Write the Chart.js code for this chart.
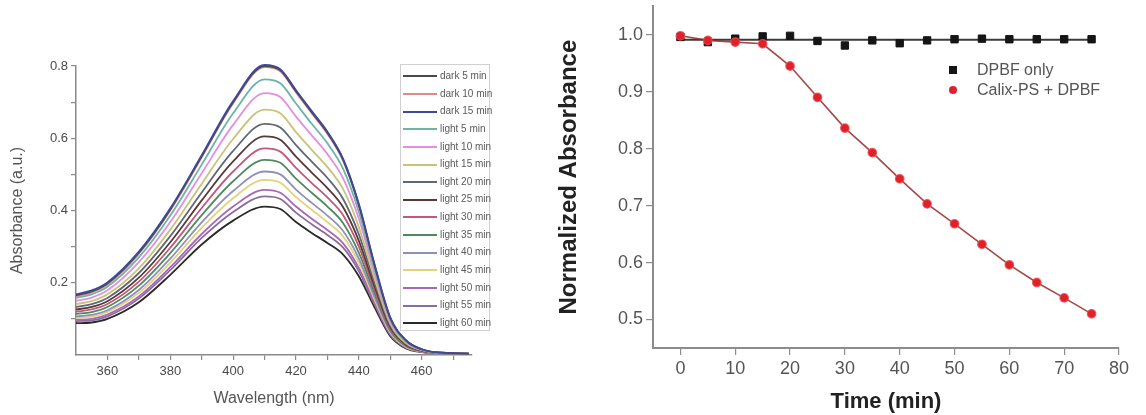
<!DOCTYPE html>
<html>
<head>
<meta charset="utf-8">
<title>DPBF photobleaching</title>
<script src="https://cdn.jsdelivr.net/npm/chart.js@4.4.1/dist/chart.umd.min.js"></script>
<style>
  html, body { margin: 0; padding: 0; background: #fff; }
  #page {
    position: relative;
    width: 1146px;
    height: 415px;
    overflow: hidden;
    font-family: "Liberation Sans", Arial, sans-serif;
  }
  #spectra { position: absolute; left: 0; top: 0; }
  #kinetics { position: absolute; left: 540px; top: 0; }

  .spec-legend {
    position: absolute;
    left: 400px;
    top: 64px;
    width: 90px;
    height: 267px;
    border: 1px solid #d0d0d0;
    background: #fff;
    box-sizing: border-box;
  }
  .spec-legend .row {
    position: absolute;
    left: 2px;
    height: 12px;
    font-size: 10px;
    line-height: 12px;
    color: #5a5a5a;
    white-space: nowrap;
  }
  .spec-legend .swatch {
    display: inline-block;
    width: 34px;
    height: 2px;
    vertical-align: middle;
    margin-right: 3px;
  }

  .kin-legend .row {
    position: absolute;
    font-size: 16px;
    color: #555;
    white-space: nowrap;
    line-height: 18px;
  }
  .kin-legend .mark {
    position: absolute;
    width: 8px;
    height: 8px;
  }
</style>
</head>
<body>
<div id="page">
  <canvas id="spectra" width="500" height="415"></canvas>
  <canvas id="kinetics" width="606" height="415"></canvas>
  <div class="spec-legend" id="specLegend"></div>
  <div class="kin-legend" id="kinLegend"></div>
</div>

<script>
// ====================================
// Data
// ====================================

// left panel: UV-vis spectra
const wavelengths = [350, 355, 360, 370, 380, 390, 400, 410, 415, 420, 425, 430, 435, 440, 445, 450, 455, 460, 465, 475];

const dark5Min   = [0.165, 0.176, 0.198, 0.283, 0.403, 0.550, 0.700, 0.800, 0.788, 0.730, 0.672, 0.615, 0.540, 0.415, 0.248, 0.102, 0.040, 0.016, 0.007, 0.004];
const dark10Min  = [0.162, 0.173, 0.195, 0.280, 0.400, 0.547, 0.697, 0.797, 0.785, 0.727, 0.669, 0.612, 0.537, 0.412, 0.246, 0.101, 0.040, 0.016, 0.007, 0.004];
const dark15Min  = [0.168, 0.179, 0.201, 0.286, 0.406, 0.553, 0.703, 0.803, 0.791, 0.733, 0.675, 0.618, 0.543, 0.418, 0.251, 0.104, 0.041, 0.016, 0.007, 0.004];
const light5Min  = [0.158, 0.168, 0.189, 0.270, 0.386, 0.527, 0.669, 0.763, 0.752, 0.696, 0.640, 0.586, 0.515, 0.396, 0.237, 0.097, 0.038, 0.015, 0.007, 0.004];
const light10Min = [0.150, 0.159, 0.179, 0.257, 0.368, 0.503, 0.637, 0.725, 0.714, 0.660, 0.608, 0.556, 0.489, 0.377, 0.226, 0.092, 0.036, 0.014, 0.007, 0.004];
const light15Min = [0.141, 0.149, 0.168, 0.240, 0.347, 0.474, 0.598, 0.679, 0.669, 0.617, 0.568, 0.520, 0.459, 0.354, 0.212, 0.087, 0.033, 0.014, 0.006, 0.004];
const light20Min = [0.133, 0.141, 0.158, 0.227, 0.329, 0.450, 0.565, 0.640, 0.630, 0.581, 0.535, 0.490, 0.432, 0.334, 0.200, 0.082, 0.031, 0.013, 0.006, 0.004];
const light25Min = [0.126, 0.133, 0.149, 0.214, 0.312, 0.428, 0.536, 0.605, 0.596, 0.549, 0.505, 0.462, 0.409, 0.316, 0.190, 0.077, 0.029, 0.012, 0.006, 0.004];
const light30Min = [0.120, 0.126, 0.141, 0.203, 0.297, 0.407, 0.508, 0.572, 0.563, 0.518, 0.476, 0.436, 0.387, 0.300, 0.180, 0.073, 0.027, 0.011, 0.006, 0.003];
const light35Min = [0.114, 0.119, 0.133, 0.192, 0.282, 0.387, 0.481, 0.540, 0.532, 0.488, 0.449, 0.411, 0.365, 0.283, 0.171, 0.069, 0.025, 0.011, 0.006, 0.003];
const light40Min = [0.107, 0.111, 0.124, 0.180, 0.267, 0.367, 0.454, 0.508, 0.500, 0.458, 0.421, 0.386, 0.343, 0.267, 0.161, 0.065, 0.024, 0.010, 0.005, 0.003];
const light45Min = [0.103, 0.106, 0.119, 0.172, 0.256, 0.352, 0.434, 0.485, 0.477, 0.437, 0.402, 0.368, 0.328, 0.255, 0.154, 0.062, 0.022, 0.010, 0.005, 0.003];
const light50Min = [0.097, 0.100, 0.112, 0.162, 0.243, 0.335, 0.411, 0.457, 0.449, 0.411, 0.377, 0.346, 0.309, 0.241, 0.146, 0.058, 0.021, 0.009, 0.005, 0.003];
const light55Min = [0.094, 0.096, 0.107, 0.156, 0.235, 0.324, 0.396, 0.439, 0.432, 0.394, 0.362, 0.332, 0.297, 0.232, 0.140, 0.056, 0.020, 0.009, 0.005, 0.003];
const light60Min = [0.088, 0.090, 0.100, 0.146, 0.222, 0.306, 0.372, 0.411, 0.404, 0.368, 0.338, 0.310, 0.278, 0.218, 0.132, 0.052, 0.018, 0.008, 0.005, 0.003];

const spectraLabels = [
  'dark 5 min', 'dark 10 min', 'dark 15 min',
  'light 5 min', 'light 10 min', 'light 15 min', 'light 20 min',
  'light 25 min', 'light 30 min', 'light 35 min', 'light 40 min',
  'light 45 min', 'light 50 min', 'light 55 min', 'light 60 min'
];
const spectraValues = [
  dark5Min, dark10Min, dark15Min,
  light5Min, light10Min, light15Min, light20Min,
  light25Min, light30Min, light35Min, light40Min,
  light45Min, light50Min, light55Min, light60Min
];
const spectraColors = [
  '#4a4a4a', '#e08a8a', '#3c4a9c',
  '#6ab5a5', '#e48ee0', '#c9c37a', '#606878',
  '#5a3838', '#c2587a', '#4f8a5e', '#8e90b8',
  '#e2d27a', '#a868b8', '#8c6c9c', '#2a2a2a'
];

const wavelengthTicks = [360, 370, 380, 390, 400, 410, 420, 430, 440, 450, 460, 470];
const absorbanceTicks = [0.1, 0.2, 0.3, 0.4, 0.5, 0.6, 0.7, 0.8];

// right panel: normalized absorbance vs time
const timeMin = [0, 5, 10, 15, 20, 25, 30, 35, 40, 45, 50, 55, 60, 65, 70, 75];
const dpbfOnly   = [0.996, 0.987, 0.993, 0.997, 0.998, 0.989, 0.981, 0.990, 0.985, 0.990, 0.992, 0.993, 0.992, 0.992, 0.992, 0.992];
const calixDpbf  = [0.998, 0.990, 0.987, 0.984, 0.945, 0.890, 0.836, 0.793, 0.747, 0.703, 0.668, 0.632, 0.596, 0.565, 0.538, 0.510];
const dpbfFitTime = [0, 75];
const dpbfFit     = [0.991, 0.991];

const kineticsLabels = ['DPBF only', 'Calix-PS + DPBF'];
const kineticsColors = ['#151515', '#e0202a'];

const timeTicks = [0, 10, 20, 30, 40, 50, 60, 70, 80];
const normTicks = [0.5, 0.6, 0.7, 0.8, 0.9, 1.0];

// ====================================
// Helpers
// ====================================

const FONT = '"Liberation Sans", Arial, sans-serif';

function toPoints(xs, ys) {
  return xs.map((x, i) => ({ x, y: ys[i] }));
}

function fixedTicks(values) {
  return scale => { scale.ticks = values.map(v => ({ value: v })); };
}

// pin the axis box size and drop the label overhang padding,
// so the plot area lands where the original has it
function pinSize(prop, size) {
  return scale => {
    scale[prop] = size;
    scale.paddingTop = 0;
    scale.paddingBottom = 0;
    scale.paddingLeft = 0;
    scale.paddingRight = 0;
  };
}

function axisStyle(color, width, tickLength) {
  return {
    grid: { display: true, drawOnChartArea: false, drawTicks: true, tickLength, color, lineWidth: 1.2 },
    border: { display: true, color, width }
  };
}

// ====================================
// Left panel: spectra
// ====================================

const specAxis = axisStyle('#8a8a8a', 1.5, 5);

new Chart(document.getElementById('spectra'), {
  type: 'line',
  data: {
    datasets: spectraValues.map((vals, i) => ({
      label: spectraLabels[i],
      data: toPoints(wavelengths, vals),
      borderColor: spectraColors[i],
      borderWidth: 1.8,
      pointRadius: 0,
      cubicInterpolationMode: 'monotone',
      clip: false,
      order: i === 2 ? -1 : i
    }))
  },
  options: {
    responsive: false,
    animation: false,
    layout: { padding: { left: 0, top: 66, right: 28, bottom: 0 } },
    plugins: { legend: { display: false }, tooltip: { enabled: false } },
    scales: {
      x: {
        type: 'linear',
        min: 350,
        max: 476,
        ...specAxis,
        afterBuildTicks: fixedTicks(wavelengthTicks),
        afterFit: pinSize('height', 60),
        ticks: {
          autoSkip: false,
          maxRotation: 0,
          padding: 4,
          color: '#4a4a4a',
          font: { family: FONT, size: 13 },
          callback: v => (v % 20 === 0 ? String(v) : '')
        },
        title: {
          display: true,
          text: 'Wavelength (nm)',
          color: '#555',
          font: { family: FONT, size: 16 },
          padding: { top: 0, bottom: 7 }
        }
      },
      y: {
        type: 'linear',
        min: 0,
        max: 0.8,
        ...specAxis,
        afterBuildTicks: fixedTicks(absorbanceTicks),
        afterFit: pinSize('width', 76),
        ticks: {
          autoSkip: false,
          padding: 3,
          color: '#4a4a4a',
          font: { family: FONT, size: 13 },
          callback: v => ([0.2, 0.4, 0.6, 0.8].some(t => Math.abs(t - v) < 1e-6) ? v.toFixed(1) : '')
        },
        title: {
          display: true,
          text: 'Absorbance (a.u.)',
          color: '#555',
          font: { family: FONT, size: 16 },
          padding: { top: 8, bottom: 0 }
        }
      }
    }
  }
});

// legend box of the spectra
const specLegend = document.getElementById('specLegend');
spectraLabels.forEach((label, i) => {
  const row = document.createElement('div');
  row.className = 'row';
  row.style.top = (5 + i * 17.64) + 'px';
  row.innerHTML = `<span class="swatch" style="background:${spectraColors[i]}"></span>${label}`;
  specLegend.appendChild(row);
});

// ====================================
// Right panel: kinetics
// ====================================

const kinAxis = axisStyle('#8c8c8c', 2, 7);

new Chart(document.getElementById('kinetics'), {
  type: 'scatter',
  data: {
    datasets: [
      {
        label: 'DPBF fit',
        data: toPoints(dpbfFitTime, dpbfFit),
        showLine: true,
        borderColor: '#3a3a3a',
        borderWidth: 2,
        pointRadius: 0,
        order: 3
      },
      {
        label: kineticsLabels[0],
        data: toPoints(timeMin, dpbfOnly),
        showLine: false,
        pointStyle: 'rect',
        pointRadius: 5.2,
        backgroundColor: kineticsColors[0],
        borderColor: kineticsColors[0],
        order: 2
      },
      {
        label: kineticsLabels[1],
        data: toPoints(timeMin, calixDpbf),
        showLine: true,
        borderColor: 'rgba(150, 40, 40, 0.85)',
        borderWidth: 1.6,
        pointStyle: 'circle',
        pointRadius: 4.3,
        backgroundColor: kineticsColors[1],
        pointBorderColor: 'rgba(235, 80, 80, 0.8)',
        pointBorderWidth: 1.2,
        order: 1
      }
    ]
  },
  options: {
    responsive: false,
    animation: false,
    layout: { padding: { left: 0, top: 2, right: 27, bottom: 0 } },
    plugins: { legend: { display: false }, tooltip: { enabled: false } },
    scales: {
      x: {
        type: 'linear',
        min: -5,
        max: 80,
        ...kinAxis,
        afterBuildTicks: fixedTicks(timeTicks),
        afterFit: pinSize('height', 67),
        ticks: {
          autoSkip: false,
          maxRotation: 0,
          padding: 3,
          color: '#555',
          font: { family: FONT, size: 18 }
        },
        title: {
          display: true,
          text: 'Time (min)',
          color: '#222',
          font: { family: FONT, size: 22, weight: 'bold' },
          padding: { top: 0, bottom: 0 }
        }
      },
      y: {
        type: 'linear',
        min: 0.45,
        max: 1.05,
        ...kinAxis,
        afterBuildTicks: fixedTicks(normTicks),
        afterFit: pinSize('width', 113),
        ticks: {
          autoSkip: false,
          padding: 3,
          color: '#555',
          font: { family: FONT, size: 18 },
          callback: v => v.toFixed(1)
        },
        title: {
          display: true,
          text: 'Normalized Absorbance',
          color: '#222',
          font: { family: FONT, size: 24, weight: 'bold' },
          padding: { top: 15, bottom: 0 }
        }
      }
    }
  }
});

// legend of the kinetics panel
const kinLegend = document.getElementById('kinLegend');
kineticsLabels.forEach((label, i) => {
  const y = 70 + i * 20;
  const mark = document.createElement('div');
  mark.className = 'mark';
  mark.style.left = '949px';
  mark.style.top = (y - 4) + 'px';
  mark.style.background = kineticsColors[i];
  if (i === 1) mark.style.borderRadius = '50%';
  kinLegend.appendChild(mark);

  const row = document.createElement('div');
  row.className = 'row';
  row.style.left = '977px';
  row.style.top = (y - 9) + 'px';
  row.textContent = label;
  kinLegend.appendChild(row);
});
</script>
</body>
</html>
